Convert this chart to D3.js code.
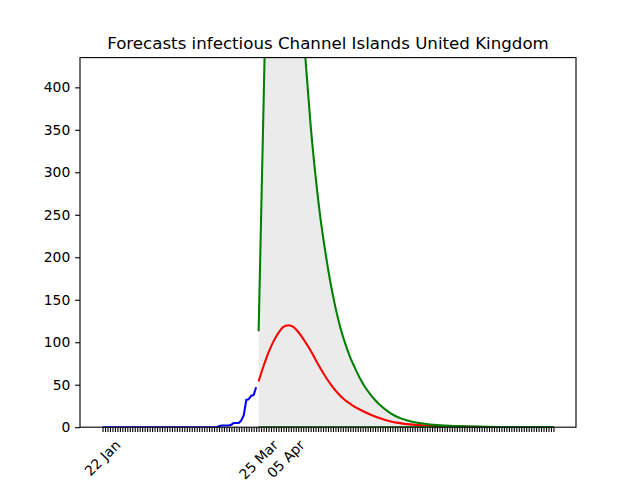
<!DOCTYPE html>
<html>
<head>
<meta charset="utf-8">
<script src="https://cdn.jsdelivr.net/npm/d3@7"></script>
<style>
  body { margin: 0; background: #fff; }
  svg { font-family: "DejaVu Sans", sans-serif; }
</style>
</head>
<body>
<svg id="chart"></svg>
<script>
// observed infectious, one value per day from 22 Jan 2020
var observedStart = "2020-01-22"
var observedValues = [
  0, 0, 0, 0, 0, 0, 0, 0, 0, 0,
  0, 0, 0, 0, 0, 0, 0, 0, 0, 0,
  0, 0, 0, 0, 0, 0, 0, 0, 0, 0,
  0, 0, 0, 0, 0, 0, 0, 0, 0, 0,
  0, 0, 0, 0, 0, 0, 0, 1, 2, 2,
  2, 2, 3, 5, 5, 5, 8, 14, 32, 33,
  37, 38, 47
]

// expected forecast (red)
var expectedDates = ["2020-03-25", "2020-03-27", "2020-03-29", "2020-03-31", "2020-04-02",
  "2020-04-04", "2020-04-06", "2020-04-08", "2020-04-10", "2020-04-12", "2020-04-14",
  "2020-04-16", "2020-04-18", "2020-04-20", "2020-04-22", "2020-04-24", "2020-04-26",
  "2020-04-28", "2020-04-30", "2020-05-02", "2020-05-05", "2020-05-09", "2020-05-13",
  "2020-05-17", "2020-05-21", "2020-05-25", "2020-05-31", "2020-06-10", "2020-06-20",
  "2020-07-05", "2020-07-22"]
var expectedValues = [54, 72, 88, 101, 111,
  118, 120, 118, 112, 104, 95,
  85, 74, 64, 55, 47, 40,
  34, 29.5, 25.5, 20.5, 15, 10.5,
  7, 4.8, 3.3, 2, 1, 0.4,
  0.1, 0]

// forecast bounds (green)
var boundDates = ["2020-03-25", "2020-03-26", "2020-03-27", "2020-03-28", "2020-03-30",
  "2020-04-01", "2020-04-03", "2020-04-05", "2020-04-07", "2020-04-09", "2020-04-11",
  "2020-04-13", "2020-04-15", "2020-04-17", "2020-04-19", "2020-04-21", "2020-04-23",
  "2020-04-25", "2020-04-27", "2020-04-29", "2020-05-01", "2020-05-03", "2020-05-05",
  "2020-05-07", "2020-05-09", "2020-05-11", "2020-05-13", "2020-05-16", "2020-05-19",
  "2020-05-22", "2020-05-26", "2020-05-31", "2020-06-05", "2020-06-10", "2020-06-20",
  "2020-06-30", "2020-07-22"]
var upperValues = [113, 247, 381, 515, 650,
  740, 770, 740, 670, 590, 510,
  430, 355, 295, 245, 205, 170,
  141, 117, 98, 82, 69, 57,
  47, 39, 32, 26, 19, 13.5,
  9.8, 6.5, 4, 2.5, 1.6, 0.7,
  0.3, 0.1]
var lowerValues = [0, 0, 0, 0, 0,
  0, 0, 0, 0, 0, 0,
  0, 0, 0, 0, 0, 0,
  0, 0, 0, 0, 0, 0,
  0, 0, 0, 0, 0, 0,
  0, 0, 0, 0, 0, 0,
  0, 0]

var labelledTicks = ["2020-01-22", "2020-03-25", "2020-04-05"]
var yTicks = [0, 50, 100, 150, 200, 250, 300, 350, 400]
var yMax = 435
var title = "Forecasts infectious Channel Islands United Kingdom"

var parse = d3.utcParse("%Y-%m-%d")
var fmt = d3.utcFormat("%d %b")

// matplotlib-like layout, 640x480 at 100 dpi
var W = 640, H = 480
var margin = {top: 57.6, right: 64, bottom: 52.8, left: 80}
var width = W - margin.left - margin.right,
    height = H - margin.top - margin.bottom
var pt = 100 / 72

var svg = d3.select("#chart").attr("width", W).attr("height", H)
var g = svg.append("g").attr("transform", "translate(" + margin.left + "," + margin.top + ")")

var t0 = parse(observedStart)
var observed = observedValues.map(function (v, i) { return {date: d3.utcDay.offset(t0, i), value: v} })
var expected = expectedDates.map(function (d, i) { return {date: parse(d), value: expectedValues[i]} })
var bounds = boundDates.map(function (d, i) { return {date: parse(d), upper: upperValues[i], lower: lowerValues[i]} })

var tEnd = bounds[bounds.length - 1].date
var spanDays = (tEnd - t0) / 864e5
var pad = spanDays * 0.05

var x = d3.scaleUtc()
    .domain([new Date(+t0 - pad * 864e5), new Date(+tEnd + pad * 864e5)])
    .range([0, width])
var y = d3.scaleLinear().domain([0, yMax]).range([height, 0])

g.append("clipPath").attr("id", "clip")
  .append("rect").attr("width", width).attr("height", height)

var plot = g.append("g").attr("clip-path", "url(#clip)")

plot.append("path")
    .datum(bounds)
    .attr("fill", "#ebebeb")
    .attr("d", d3.area()
        .x(function (d) { return x(d.date) })
        .y0(function (d) { return y(d.lower) })
        .y1(function (d) { return y(d.upper) })
        .curve(d3.curveMonotoneX))

var lw = 1.5 * pt

plot.append("path")
    .datum(observed)
    .attr("fill", "none").attr("stroke", "#0000ff").attr("stroke-width", lw)
    .attr("stroke-linejoin", "round")
    .attr("d", d3.line().x(function (d) { return x(d.date) }).y(function (d) { return y(d.value) }))

plot.append("path")
    .datum(expected)
    .attr("fill", "none").attr("stroke", "#ff0000").attr("stroke-width", lw)
    .attr("d", d3.line().x(function (d) { return x(d.date) }).y(function (d) { return y(d.value) })
        .curve(d3.curveMonotoneX))

plot.append("path")
    .datum(bounds)
    .attr("fill", "none").attr("stroke", "#008000").attr("stroke-width", lw)
    .attr("d", d3.line().x(function (d) { return x(d.date) }).y(function (d) { return y(d.upper) })
        .curve(d3.curveMonotoneX))

plot.append("path")
    .datum(bounds)
    .attr("fill", "none").attr("stroke", "#008000").attr("stroke-width", lw)
    .attr("d", d3.line().x(function (d) { return x(d.date) }).y(function (d) { return y(d.lower) })
        .curve(d3.curveMonotoneX))

// axes
var tickLen = 3.5 * pt
var fontSize = 10 * pt

var dayTicks = d3.utcDay.range(t0, d3.utcDay.offset(tEnd, 1))
var xAxis = g.append("g")
    .attr("transform", "translate(0," + height + ")")
    .call(d3.axisBottom(x).tickValues(dayTicks).tickSize(tickLen).tickSizeOuter(0).tickFormat(""))
xAxis.select(".domain").remove()
xAxis.selectAll(".tick line").attr("stroke", "#000").attr("stroke-width", 0.8 * pt)

labelledTicks.forEach(function (s) {
    var d = parse(s)
    var lbl = g.append("text")
        .attr("font-size", fontSize)
        .attr("text-anchor", "middle")
        .attr("dy", "0.35em")
        .text(fmt(d))
    var w = lbl.node().getComputedTextLength()
    var hb = Math.SQRT1_2 * (w + fontSize * 1.164)
    var cy = height + tickLen + 3.5 * pt + hb / 2
    lbl.attr("transform", "translate(" + x(d) + "," + cy + ") rotate(-45)")
})

var yAxis = g.append("g")
    .call(d3.axisLeft(y).tickValues(yTicks).tickSize(tickLen).tickPadding(3.5 * pt).tickSizeOuter(0))
yAxis.select(".domain").remove()
yAxis.selectAll(".tick line").attr("stroke", "#000").attr("stroke-width", 0.8 * pt)
yAxis.selectAll(".tick text").attr("font-size", fontSize).attr("fill", "#000")
    .attr("font-family", "DejaVu Sans")

// frame
g.append("rect")
    .attr("width", width).attr("height", height)
    .attr("fill", "none").attr("stroke", "#000").attr("stroke-width", 0.8 * pt)

svg.append("text")
    .attr("x", margin.left + width / 2)
    .attr("y", margin.top - 6 * pt)
    .attr("text-anchor", "middle")
    .attr("font-size", 12 * pt)
    .text(title)
</script>
</body>
</html>
